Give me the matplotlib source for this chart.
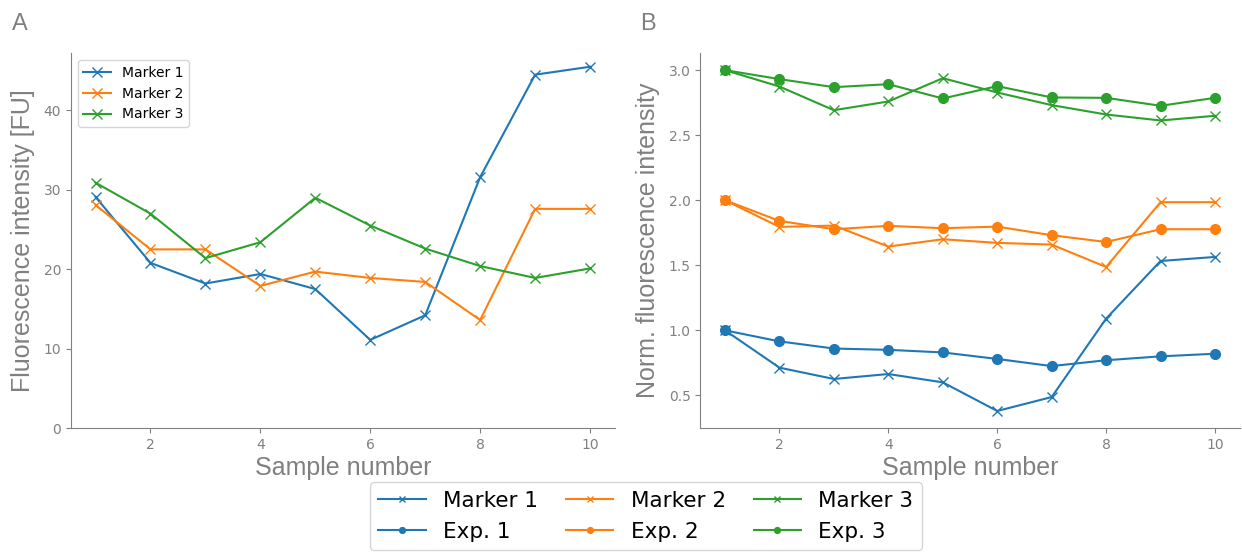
import numpy as np
import matplotlib
matplotlib.use('Agg')
import matplotlib.pyplot as plt

# sample numbers
samples = np.arange(1, 11)

# panel A: raw fluorescence [FU]
marker1 = [29.1, 20.8, 18.2, 19.4, 17.5, 11.1, 14.2, 31.6, 44.5, 45.5]
marker2 = [28.1, 22.5, 22.5, 17.9, 19.7, 18.9, 18.4, 13.6, 27.6, 27.6]
marker3 = [30.9, 27.0, 21.4, 23.4, 29.0, 25.5, 22.6, 20.4, 18.9, 20.1]

# panel B: normalised (offset by 0, 1, 2)
marker1_norm = [1.0, 0.713, 0.626, 0.664, 0.60, 0.38, 0.487, 1.09, 1.533, 1.564]
marker2_norm = [2.0, 1.795, 1.805, 1.644, 1.70, 1.672, 1.659, 1.487, 1.985, 1.985]
marker3_norm = [3.0, 2.874, 2.692, 2.759, 2.938, 2.828, 2.731, 2.659, 2.613, 2.649]
exp1 = [1.0, 0.915, 0.86, 0.85, 0.83, 0.78, 0.725, 0.77, 0.80, 0.82]
exp2 = [2.0, 1.841, 1.777, 1.803, 1.785, 1.797, 1.731, 1.679, 1.777, 1.777]
exp3 = [3.0, 2.931, 2.869, 2.892, 2.782, 2.877, 2.79, 2.787, 2.726, 2.787]

colors = ['#1f77b4', '#ff7f0e', '#2ca02c']
grey = '#808080'
label_font = 'Liberation Sans'

plt.rcParams['font.family'] = 'DejaVu Sans'

fig = plt.figure(figsize=(12.42, 5.53), dpi=100)
axA = fig.add_axes([0.057, 0.226, 0.438, 0.678])
axB = fig.add_axes([0.564, 0.226, 0.434, 0.678])

# panel A
for y, c, name in zip([marker1, marker2, marker3], colors, ['Marker 1', 'Marker 2', 'Marker 3']):
    axA.plot(samples, y, color=c, marker='x', markersize=7, linewidth=1.5, label=name)
axA.set_ylim(bottom=0)
axA.set_ylabel('Fluorescence intensity [FU]', fontsize=18, color=grey, family=label_font, labelpad=6)
axA.set_xlabel('Sample number', fontsize=18, color=grey, family=label_font, labelpad=3)
axA.legend(loc='upper left', fontsize=10)

# panel B
handles = []
for ym, ye, c, i in zip([marker1_norm, marker2_norm, marker3_norm], [exp1, exp2, exp3], colors, [1, 2, 3]):
    hm, = axB.plot(samples, ym, color=c, marker='x', markersize=7, linewidth=1.5, label='Marker %d' % i)
    he, = axB.plot(samples, ye, color=c, marker='o', markersize=7, linewidth=1.5, label='Exp. %d' % i)
    handles += [hm, he]
axB.set_ylabel('Norm. fluorescence intensity', fontsize=18, color=grey, family=label_font, labelpad=6)
axB.set_xlabel('Sample number', fontsize=18, color=grey, family=label_font, labelpad=3)
axB.set_yticks([0.5, 1.0, 1.5, 2.0, 2.5, 3.0])

for ax in [axA, axB]:
    ax.set_xticks([2, 4, 6, 8, 10])
    ax.spines['top'].set_visible(False)
    ax.spines['right'].set_visible(False)
    ax.spines['left'].set_color(grey)
    ax.spines['bottom'].set_color(grey)
    ax.tick_params(colors=grey, labelsize=10)

fig.text(0.010, 0.945, 'A', fontsize=17, color=grey, family=label_font)
fig.text(0.515, 0.945, 'B', fontsize=17, color=grey, family=label_font)

fig.legend(handles=handles, labels=[h.get_label() for h in handles], ncol=3,
           loc='upper center', bbox_to_anchor=(0.52, 0.128), fontsize=15.5,
           markerscale=0.6, handlelength=2.2, columnspacing=1.3, handletextpad=0.8,
           borderaxespad=0.0)

plt.savefig('out.png', dpi=100)
